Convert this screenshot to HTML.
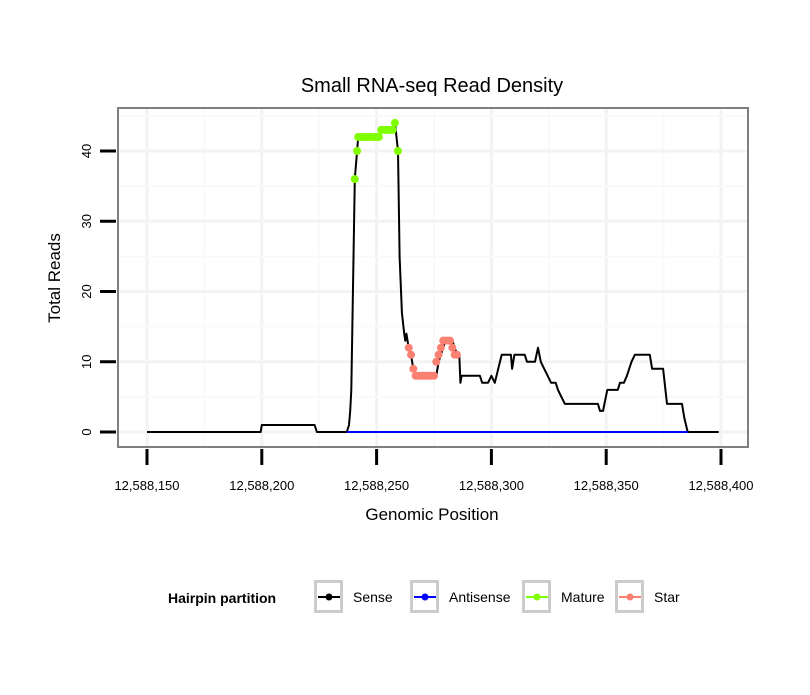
<!DOCTYPE html>
<html><head><meta charset="utf-8"><style>
body{margin:0;background:#fff;}
svg text{font-family:"Liberation Sans",sans-serif;}
</style></head><body>
<svg id="chart" width="810" height="690">
<text x="432" y="92" font-size="20" text-anchor="middle">Small RNA-seq Read Density</text>
<rect x="118" y="108" width="630" height="339" fill="#fff" stroke="none"/>
<g id="grid"></g>
<g id="marks"></g>
<rect x="118" y="108" width="630" height="339" fill="none" stroke="#7f7f7f" stroke-width="2"/>
<g id="axes"></g>
<text x="432" y="520" font-size="17" text-anchor="middle">Genomic Position</text>
<text transform="translate(60,278) rotate(-90)" font-size="17" text-anchor="middle">Total Reads</text>
<g>
<text x="168" y="603" font-size="14" font-weight="bold">Hairpin partition</text>
<g id="legend"></g>
</g>
</svg>
<script>
const xTicks=[150,200,250,300,350,400];
const xTickLabels=["12,588,150","12,588,200","12,588,250","12,588,300","12,588,350","12,588,400"];
const yTicks=[0,10,20,30,40];
const sensePos=[150,199.5,200,223,224,237,238,238.5,239,240.5,
241.5,242,251,252,257,258,259.3,260,261,262,
262.5,263,264,265,266,267,276,277,278,279,
280,283,284,285,286,286.5,287,295,296,298.5,
300,301.5,304.5,308.5,309,310,314.5,315.5,319,320.3,
321.5,323,324.5,326,328,329,330.5,332,346.4,347.3,
348.6,350.5,355,356,357.7,359,360,361,362.5,369,
370,374.8,376.5,383,384,385.5,399];
const senseVal=[0,0,1,1,0,0,1,3,6,36,
40,42,42,43,43,44,40,25,17,14,
13,14,12,11,9,8,8,10,11,12,
13,13,12,11,11,7,8,8,7,7,
8,7,11,11,9,11,11,10,10,12,
10,9,8,7,7,6,5,4,4,3,
3,6,6,7,7,8,9,10,11,11,
9,9,4,4,2,0,0];
const antiPos=[237,385.5];
const antiVal=[0,0];
const maturePos=[240.5,241.5,242,243,244,245,246,247,248,249,250,251,252,253,254,255,256,257,258,259.3];
const matureVal=[36,40,42,42,42,42,42,42,42,42,42,42,43,43,43,43,43,43,44,40];
const starPos=[264,265,266,267,268,269,270,271,272,273,274,275,276,277,278,279,280,281,282,283,284,285];
const starVal=[12,11,9,8,8,8,8,8,8,8,8,8,10,11,12,13,13,13,13,12,11,11];
const NS="http://www.w3.org/2000/svg";
const X=p=>147+(p-150)*574/250;
const Y=v=>432-v*281/40;
function mk(tag,attrs,parent){const e=document.createElementNS(NS,tag);for(const k in attrs)e.setAttribute(k,attrs[k]);parent.appendChild(e);return e;}
const grid=document.getElementById('grid'),marks=document.getElementById('marks'),axes=document.getElementById('axes'),legend=document.getElementById('legend');
for(let i=0;i<xTicks.length;i++){
 const g=mk('line',{x1:X(xTicks[i]),x2:X(xTicks[i]),y1:109,y2:446,stroke:'#f3f3f3','stroke-width':3},grid);
 
 
 if(i<xTicks.length-1){const m=mk('line',{x1:X((xTicks[i]+xTicks[i+1])/2),x2:X((xTicks[i]+xTicks[i+1])/2),y1:109,y2:446,stroke:'#f9f9f9','stroke-width':2},grid);
 
 }
 const t=mk('line',{x1:X(xTicks[i]),x2:X(xTicks[i]),y1:449,y2:465,stroke:'#000','stroke-width':3},axes);
 
 
 const l=mk('text',{x:X(xTicks[i]),y:490,'font-size':13,'text-anchor':'middle'},axes);l.textContent=xTickLabels[i];
 
 
}
for(let i=0;i<yTicks.length;i++){
 const g=mk('line',{x1:119,x2:747,y1:Y(yTicks[i]),y2:Y(yTicks[i]),stroke:'#f3f3f3','stroke-width':3},grid);
 
 
 const mv=yTicks[i]+5;const m=mk('line',{x1:119,x2:747,y1:Y(mv),y2:Y(mv),stroke:'#f9f9f9','stroke-width':2},grid);
 
 
 const t=mk('line',{x1:100,x2:116,y1:Y(yTicks[i]),y2:Y(yTicks[i]),stroke:'#000','stroke-width':3},axes);
 
 
 const l=mk('text',{transform:`translate(${91},${Y(yTicks[i])}) rotate(-90)`,'font-size':13,'text-anchor':'middle'},axes);l.textContent=yTicks[i];
 
 
}
function line(pos,val,color,name){const d=pos.map((p,i)=>(i?'L':'M')+X(p).toFixed(1)+','+Y(val[i]).toFixed(1)).join('');
 const e=mk('path',{d:d,fill:'none',stroke:color,'stroke-width':2,'stroke-linejoin':'round'},marks);
 
 }
line(sensePos,senseVal,'#000','sense-line');
line(antiPos,antiVal,'#0000ff','antisense-line');
function pts(pos,val,color,name){pos.forEach((p,i)=>{const c=mk('circle',{cx:X(p),cy:Y(val[i]),r:4,fill:color},marks);
 
 });}
pts(maturePos,matureVal,'#7fff00','mature-point');
pts(starPos,starVal,'#fa8072','star-point');
const keys=[['Sense','#000',314],['Antisense','#0000ff',410],['Mature','#7fff00',522],['Star','#fa8072',615]];
keys.forEach(k=>{
 const g=mk('g',{},legend);
 
 
 mk('rect',{x:k[2]+1.5,y:581.5,width:26,height:30,fill:'#fff',stroke:'#cccccc','stroke-width':3},g);
 mk('line',{x1:k[2]+4,x2:k[2]+26,y1:597,y2:597,stroke:k[1],'stroke-width':2},g);
 mk('circle',{cx:k[2]+15,cy:597,r:3.5,fill:k[1]},g);
 const t=mk('text',{x:k[2]+39,y:602,'font-size':14},g);t.textContent=k[0];
});
</script>
</body></html>
